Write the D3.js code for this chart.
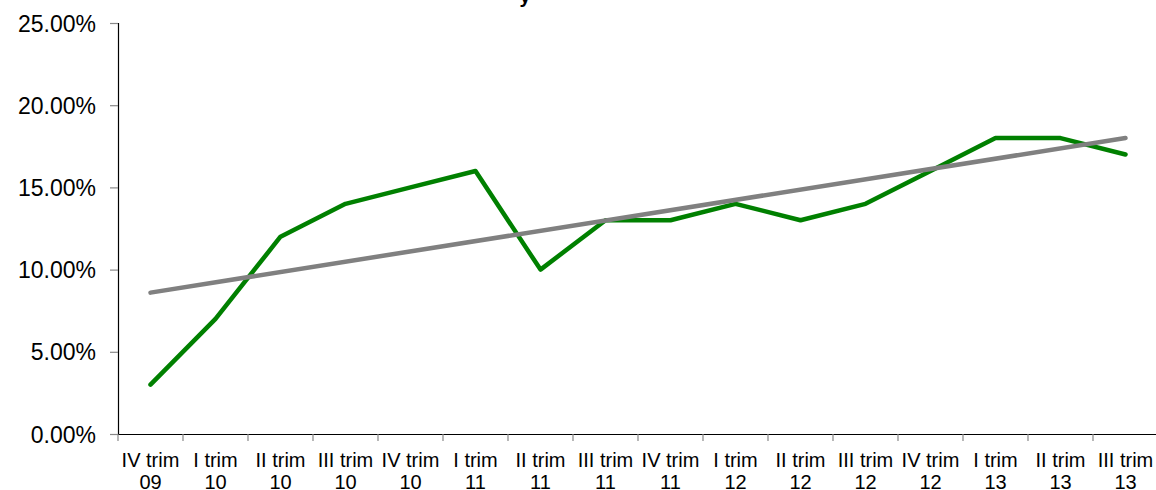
<!DOCTYPE html>
<html><head><meta charset="utf-8">
<script src="https://cdn.jsdelivr.net/npm/d3@7"></script>
<style>body{margin:0;background:#fff}svg{display:block}text{font-family:"Liberation Sans",Arial,sans-serif;fill:#000}</style>
</head><body><svg id="c" width="1156" height="490"></svg>
<script>
const categories = ["IV trim|09","I trim|10","II trim|10","III trim|10","IV trim|10","I trim|11","II trim|11","III trim|11","IV trim|11","I trim|12","II trim|12","III trim|12","IV trim|12","I trim|13","II trim|13","III trim|13"];
const values = [3,7,12,14,15,16,10,13,13,14,13,14,16,18,18,17];
const trendValues = [8.6,18.0];
const yTicks = [0,5,10,15,20,25];

const svg = d3.select("#c");
const x = d3.scaleBand().domain(categories).range([118,1158]);
const y = d3.scaleLinear().domain([0,25]).range([434,23]);
const cx = d => x(d)+x.bandwidth()/2;

// partial title (cut off at top)
svg.append("text").attr("x",525).attr("y",3).attr("font-size",20).attr("font-weight","bold").attr("text-anchor","middle").text("y");

// y axis
const ya = svg.append("g").attr("transform","translate(118,0)")
  .call(d3.axisLeft(y).tickValues(yTicks).tickSize(8).tickPadding(14).tickFormat(d=>d.toFixed(2)+"%"));
ya.select(".domain").attr("stroke","#000").attr("stroke-width",1.2);
ya.selectAll(".tick line").attr("stroke","#888").attr("stroke-width",1.2);
ya.selectAll(".tick text").attr("font-size",23).attr("font-family","Liberation Sans, Arial, sans-serif").attr("dy","0.35em");

// x axis
const xa = svg.append("g").attr("transform","translate(0,434)")
  .call(d3.axisBottom(x).tickSize(0).tickFormat(""));
xa.select(".domain").attr("stroke","#000").attr("stroke-width",1.2);
const bounds = categories.map(c=>x(c));
svg.append("g").selectAll("line").data(bounds).join("line")
  .attr("x1",d=>d).attr("x2",d=>d).attr("y1",434).attr("y2",441)
  .attr("stroke","#888").attr("stroke-width",1.2);
const lbl = svg.append("g").selectAll("text").data(categories).join("text")
  .attr("text-anchor","middle").attr("font-size",20);
lbl.append("tspan").attr("x",d=>cx(d)).attr("y",467).text(d=>d.split("|")[0]);
lbl.append("tspan").attr("x",d=>cx(d)).attr("y",489).text(d=>d.split("|")[1]);

// green series
svg.append("path").datum(values.map((v,i)=>[categories[i],v]))
  .attr("fill","none").attr("stroke","#008000").attr("stroke-width",4.5)
  .attr("stroke-linejoin","round").attr("stroke-linecap","round")
  .attr("d",d3.line().x(d=>cx(d[0])).y(d=>y(d[1])));

// trend line
const tr = [[categories[0],trendValues[0]],[categories[categories.length-1],trendValues[1]]];
svg.append("path").datum(tr)
  .attr("fill","none").attr("stroke","#808080").attr("stroke-width",4.5)
  .attr("stroke-linecap","round")
  .attr("d",d3.line().x(d=>cx(d[0])).y(d=>y(d[1])));
</script></body></html>
